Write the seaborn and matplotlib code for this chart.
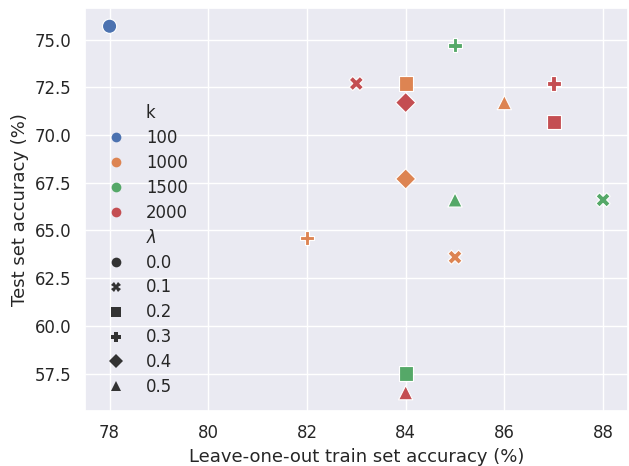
import matplotlib
matplotlib.use("Agg")
import matplotlib.pyplot as plt
import pandas as pd
import seaborn as sns

# leave-one-out train accuracy, test accuracy, k, lambda
train_acc = [78, 84, 83, 85, 84, 86, 87, 87, 84, 85, 88, 82, 85, 84, 84]
test_acc = [75.7, 72.7, 72.7, 74.7, 71.7, 71.7, 72.7, 70.7, 67.7, 66.6, 66.6, 64.6, 63.6, 57.5, 56.5]
k_vals = [100, 1000, 2000, 1500, 2000, 1000, 2000, 2000, 1000, 1500, 1500, 1000, 1000, 1500, 2000]
lam_vals = ["0.0", "0.2", "0.1", "0.3", "0.4", "0.5", "0.3", "0.2", "0.4", "0.5", "0.1", "0.3", "0.1", "0.2", "0.5"]

k_order = [100, 1000, 1500, 2000]
lam_order = ["0.0", "0.1", "0.2", "0.3", "0.4", "0.5"]

df = pd.DataFrame({"train": train_acc, "test": test_acc, "k": k_vals, r"$\lambda$": lam_vals})

sns.set_theme(font_scale=1.08)
fig, ax = plt.subplots(figsize=(6.29, 4.66), dpi=100)
fig.subplots_adjust(left=0.135, right=0.998, top=0.983, bottom=0.118)

sns.scatterplot(data=df, x="train", y="test", hue="k", hue_order=k_order,
                style=r"$\lambda$", style_order=lam_order,
                markers=["o", "X", "s", "P", "D", "^"],
                palette="deep", s=105, ax=ax)

ax.set_xlabel("Leave-one-out train set accuracy (%)")
ax.set_ylabel("Test set accuracy (%)")

# smaller legend markers like the old seaborn legend
handles, labels = ax.get_legend_handles_labels()
for h in handles:
    if hasattr(h, "set_markersize"):
        h.set_markersize(7)
        h.set_markeredgewidth(0)
ax.legend(handles, labels, loc="lower left", frameon=False, labelspacing=0.42)

fig.savefig("out.png", dpi=100)
